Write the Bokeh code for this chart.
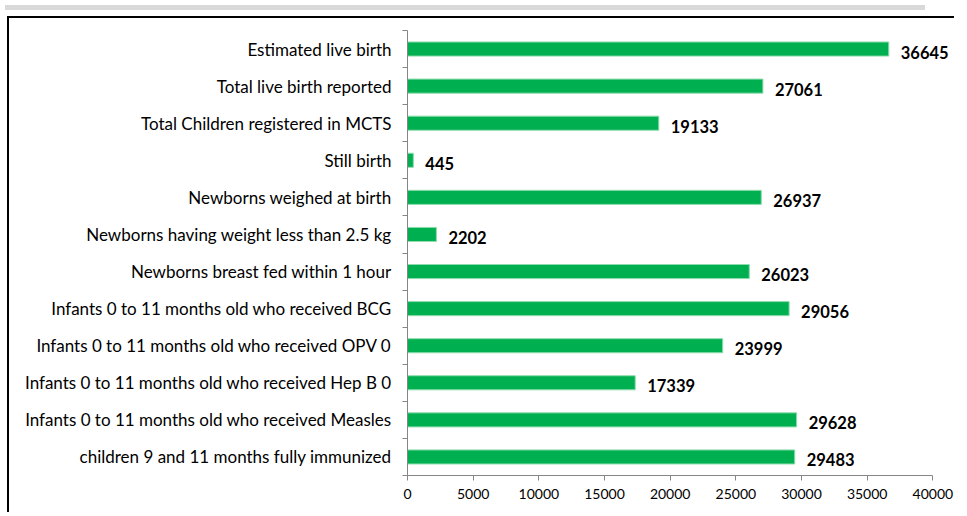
from bokeh.plotting import figure
from bokeh.models import (ColumnDataSource, LabelSet, Range1d, FixedTicker, Div, LinearAxis, Spacer)
from bokeh.core.properties import value
from bokeh.layouts import column, row
from bokeh.embed import file_html
from bokeh.resources import INLINE

categories = [
    "Estimated live birth",
    "Total live birth reported",
    "Total Children registered in MCTS",
    "Still birth",
    "Newborns weighed at birth",
    "Newborns having weight less than 2.5 kg",
    "Newborns breast fed within 1 hour",
    "Infants 0 to 11 months old who received BCG",
    "Infants 0 to 11 months old who received OPV 0",
    "Infants 0 to 11 months old who received Hep B 0",
    "Infants 0 to 11 months old who received Measles",
    "children 9 and 11 months fully immunized",
]
values = [36645, 27061, 19133, 445, 26937, 2202, 26023, 29056, 23999, 17339, 29628, 29483]
x_ticks = [0, 5000, 10000, 15000, 20000, 25000, 30000, 35000, 40000]

n = len(categories)
# category slots: first category at the top
ypos = [n - 0.5 - i for i in range(n)]
source = ColumnDataSource(dict(cat=categories, val=values, y=ypos,
                               lbl=[str(v) for v in values]))

FONT = "Lato"

p = figure(width=947, height=496, output_backend="svg", toolbar_location=None,
           x_range=Range1d(0, 41800), y_range=Range1d(0, n),
           y_axis_location=None,
           min_border_left=398, min_border_right=0, min_border_top=12, min_border_bottom=39)
p.outline_line_color = None
p.xgrid.visible = False
p.ygrid.visible = False

p.hbar(y="y", right="val", left=0, height=0.38, source=source,
       fill_color="#00B050", line_color="#8fdcae", line_width=1)

# x axis
xa = p.xaxis[0]
xa.ticker = FixedTicker(ticks=x_ticks)
xa.bounds = (0, 40000)
xa.axis_line_color = "#868686"
xa.major_tick_line_color = "#868686"
xa.major_tick_out = 5
xa.major_tick_in = 0
xa.minor_tick_line_color = None
xa.major_label_text_font = FONT
xa.major_label_text_font_size = "14px"
xa.major_label_text_color = "black"
xa.major_label_standoff = 8

# y axis with tick marks at category boundaries (nearest to the plot)
ytick_axis = LinearAxis(ticker=FixedTicker(ticks=list(range(n + 1))))
ytick_axis.axis_line_color = "#868686"
ytick_axis.major_tick_line_color = "#868686"
ytick_axis.major_tick_out = 5
ytick_axis.major_tick_in = 0
ytick_axis.minor_tick_line_color = None
ytick_axis.major_label_text_font_size = "0px"
ytick_axis.major_label_text_color = None
ytick_axis.major_label_standoff = 0
p.add_layout(ytick_axis, "left")

# category label axis (labels at slot centres)
cat_axis = LinearAxis(ticker=FixedTicker(ticks=ypos),
                      major_label_overrides={y: c for y, c in zip(ypos, categories)})
cat_axis.axis_line_color = None
cat_axis.major_tick_line_color = None
cat_axis.major_tick_out = 0
cat_axis.major_tick_in = 0
cat_axis.minor_tick_line_color = None
cat_axis.major_label_text_font = FONT
cat_axis.major_label_text_font_size = "17px"
cat_axis.major_label_text_color = "black"
cat_axis.major_label_standoff = 11
p.add_layout(cat_axis, "left")

val_labels = LabelSet(x="val", y="y", text="lbl", source=source,
                      x_offset=12, y_offset=-3, text_align="left", text_baseline="middle",
                      text_font=value(FONT), text_font_size="16.5px", text_font_style="bold",
                      text_color="black")
p.add_layout(val_labels)

p.styles = {"border-left": "2px solid black", "border-top": "2px solid black"}

band = Div(text="", width=920, height=5, styles={"background-color": "#d9d9d9"})
layout = column(band, row(Spacer(width=7), p), spacing=1)

open("out.html", "w").write(file_html(layout, INLINE))
